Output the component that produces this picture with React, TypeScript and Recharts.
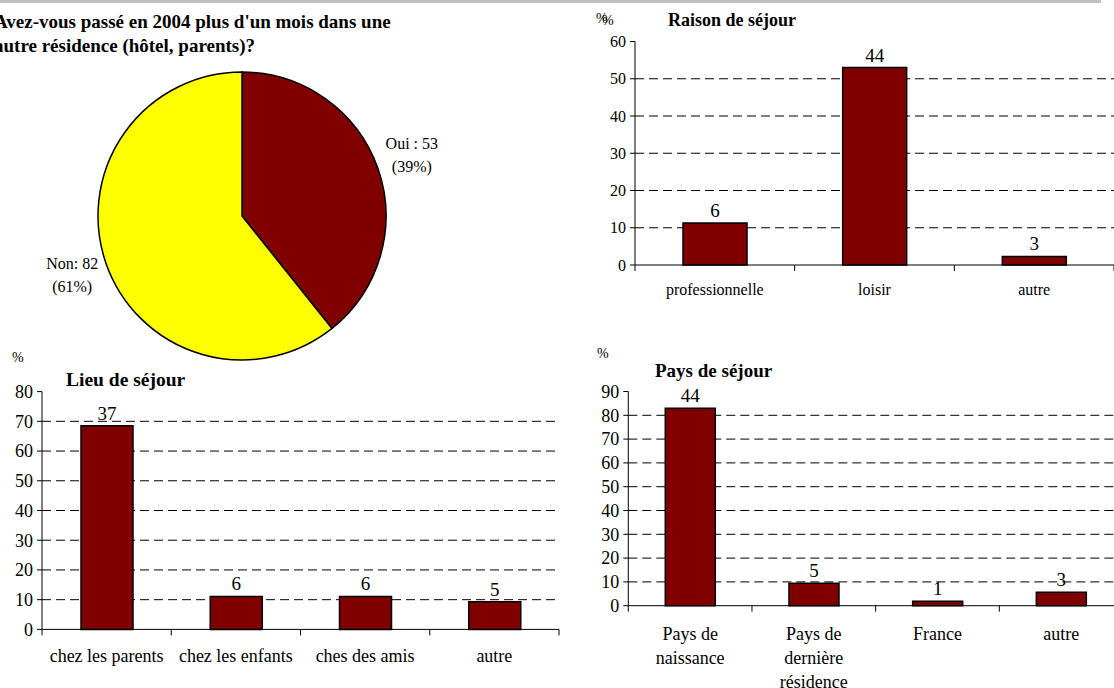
import { PieChart, Pie, Cell, BarChart, Bar, XAxis, YAxis, CartesianGrid, LabelList } from 'recharts'

const FONT = '"Liberation Serif", "Times New Roman", serif'
const BAR_RED = '#800000'

// pie : séjour > 1 mois
const sejourAnswers = ['Oui ', 'Non']
const sejourCounts = [53, 82]
const sejourShares = ['39%', '61%']
const sejourColors = ['#800000', '#FFFF00']

// raison de séjour
const raisonCategories = ['professionnelle', 'loisir', 'autre']
const raisonPercent = [11.3, 53.0, 2.3]
const raisonCounts = [6, 44, 3]
const raisonTicks = [0, 10, 20, 30, 40, 50, 60]

// lieu de séjour
const lieuCategories = ['chez les parents', 'chez les enfants', 'ches des amis', 'autre']
const lieuPercent = [68.5, 11.1, 11.1, 9.3]
const lieuCounts = [37, 6, 6, 5]
const lieuTicks = [0, 10, 20, 30, 40, 50, 60, 70, 80]

// pays de séjour
const paysCategories = ['Pays de\nnaissance', 'Pays de\ndernière\nrésidence', 'France', 'autre']
const paysPercent = [83.0, 9.4, 1.9, 5.7]
const paysCounts = [44, 5, 1, 3]
const paysTicks = [0, 10, 20, 30, 40, 50, 60, 70, 80, 90]

const toRows = (cats: string[], pct: number[], counts: number[]) =>
  cats.map((name, i) => ({ name, pct: pct[i], count: counts[i] }))

const pieData = sejourAnswers.map((name, i) => ({
  name,
  value: sejourCounts[i],
  share: sejourShares[i],
}))

const serif = { fontFamily: FONT }

const renderPieLabel = (p: any) => {
  const RAD = Math.PI / 180
  const r = p.outerRadius + 36
  const x = p.cx + r * Math.cos(-p.midAngle * RAD)
  const y = p.cy + r * Math.sin(-p.midAngle * RAD)
  return (
    <text x={x} y={y} textAnchor="middle" style={serif} fontSize={16} fill="#000">
      <tspan x={x} dy={-7}>{`${p.payload.name}: ${p.payload.value}`}</tspan>
      <tspan x={x} dy={23}>{`(${p.payload.share})`}</tspan>
    </text>
  )
}

const makeCatTick = (fontSize: number, firstDy: number, lineHeight: number) => (props: any) => {
  const { x, y, payload, index } = props
  const half = payload.offset || 0
  const lines = String(payload.value).split('\n')
  return (
    <g>
      {index === 0 && <line x1={x - half} x2={x - half} y1={y} y2={y + 6} stroke="#000" />}
      <line x1={x + half} x2={x + half} y1={y} y2={y + 6} stroke="#000" />
      <text x={x} y={y + firstDy} textAnchor="middle" style={serif} fontSize={fontSize} fill="#000">
        {lines.map((l, i) => (
          <tspan key={i} x={x} dy={i === 0 ? 0 : lineHeight}>{l}</tspan>
        ))}
      </text>
    </g>
  )
}

// dashed grid, without the 0 line (axis) and the top line
const gridLine = (props: any) => {
  const n = props.horizontalPoints ? props.horizontalPoints.length : 0
  if (props.index === 0 || (n && props.index === n - 1)) return <g key={props.key} />
  return (
    <line
      key={props.key}
      x1={props.x1}
      x2={props.x2}
      y1={props.y1}
      y2={props.y2}
      stroke="#000"
      strokeWidth={1}
      strokeDasharray="9 5"
    />
  )
}

type PanelProps = {
  data: { name: string; pct: number; count: number }[]
  ticks: number[]
  width: number
  height: number
  top: number
  right: number
  yWidth: number
  xHeight: number
  barSize: number
  tickFont: number
  catFont: number
  valueFont: number
  catDy: number
  lineHeight: number
}

function PercentBars(p: PanelProps) {
  const max = p.ticks[p.ticks.length - 1]
  return (
    <BarChart
      width={p.width}
      height={p.height}
      data={p.data}
      margin={{ top: p.top, right: p.right, left: 0, bottom: 0 }}
      barCategoryGap={0}
      style={serif}
    >
      <CartesianGrid vertical={false} horizontal={gridLine} />
      <XAxis
        dataKey="name"
        interval={0}
        height={p.xHeight}
        tickLine={false}
        tickSize={0}
        tickMargin={0}
        axisLine={{ stroke: '#000' }}
        tick={makeCatTick(p.catFont, p.catDy, p.lineHeight)}
      />
      <YAxis
        type="number"
        domain={[0, max]}
        ticks={p.ticks}
        interval={0}
        width={p.yWidth}
        tickSize={5}
        tickMargin={4}
        axisLine={{ stroke: '#000' }}
        tickLine={{ stroke: '#000' }}
        tick={{ fill: '#000', fontSize: p.tickFont, style: serif }}
      />
      <Bar dataKey="pct" fill={BAR_RED} stroke="#000" strokeWidth={1.5} barSize={p.barSize} isAnimationActive={false}>
        <LabelList dataKey="count" position="top" offset={6} fill="#000" fontSize={p.valueFont} style={serif} />
      </Bar>
    </BarChart>
  )
}

const abs = (left: number, top: number): React.CSSProperties => ({ position: 'absolute', left, top })
const titleStyle: React.CSSProperties = { fontFamily: FONT, fontWeight: 'bold', fontSize: 18, color: '#000', whiteSpace: 'nowrap' }
const smallStyle: React.CSSProperties = { fontFamily: FONT, fontSize: 14, color: '#000', whiteSpace: 'nowrap', lineHeight: '16px' }

export default function App() {
  return (
    <div style={{ position: 'absolute', left: 0, top: 0, width: 1114, height: 688, overflow: 'hidden', background: '#fff', fontFamily: FONT }}>
      <div style={{ position: 'absolute', left: 0, top: 0, width: 1101, height: 3, background: '#c0c0c0' }} />

      {/* pie */}
      <div style={abs(0, 0)}>
        <PieChart width={560} height={364} margin={{ top: 0, right: 0, bottom: 0, left: 0 }}>
          <Pie
            data={pieData}
            dataKey="value"
            cx={242}
            cy={216}
            outerRadius={144}
            startAngle={90}
            endAngle={-270}
            stroke="#000"
            strokeWidth={1.5}
            label={renderPieLabel}
            labelLine={false}
            isAnimationActive={false}
          >
            {pieData.map((d, i) => (
              <Cell key={d.name} fill={sejourColors[i]} />
            ))}
          </Pie>
        </PieChart>
      </div>
      <div style={{ ...abs(-6, 10), ...titleStyle, fontSize: 19, lineHeight: '24px' }}>
        Avez-vous passé en 2004 plus d'un mois dans une
        <br />
        autre résidence (hôtel, parents)?
      </div>

      {/* raison */}
      <div style={abs(580, 0)}>
        <PercentBars
          data={toRows(raisonCategories, raisonPercent, raisonCounts)}
          ticks={raisonTicks}
          width={534}
          height={310}
          top={41.5}
          right={0}
          yWidth={55}
          xHeight={45}
          barSize={64}
          tickFont={16}
          catFont={16}
          valueFont={19}
          catDy={30}
          lineHeight={20}
        />
      </div>
      <div style={{ ...abs(596, 11), ...smallStyle }}>%</div>
      <div style={{ ...abs(602, 13), ...smallStyle }}>%</div>
      <div style={{ ...abs(668, 10), ...titleStyle }}>Raison de séjour</div>

      {/* lieu */}
      <div style={abs(0, 340)}>
        <PercentBars
          data={toRows(lieuCategories, lieuPercent, lieuCounts)}
          ticks={lieuTicks}
          width={560}
          height={340}
          top={51.6}
          right={1}
          yWidth={42}
          xHeight={50.6}
          barSize={52}
          tickFont={18}
          catFont={18}
          valueFont={19}
          catDy={33}
          lineHeight={24}
        />
      </div>
      <div style={{ ...abs(12, 350), ...smallStyle }}>%</div>
      <div style={{ ...abs(66, 369), ...titleStyle, fontSize: 19.5 }}>Lieu de séjour</div>

      {/* pays */}
      <div style={abs(580, 340)}>
        <PercentBars
          data={toRows(paysCategories, paysPercent, paysCounts)}
          ticks={paysTicks}
          width={543}
          height={348}
          top={51.5}
          right={0}
          yWidth={48.3}
          xHeight={82.3}
          barSize={50}
          tickFont={18}
          catFont={18}
          valueFont={19}
          catDy={34}
          lineHeight={24}
        />
      </div>
      <div style={{ ...abs(597, 346), ...smallStyle }}>%</div>
      <div style={{ ...abs(655, 360), ...titleStyle, fontSize: 19 }}>Pays de séjour</div>
    </div>
  )
}
